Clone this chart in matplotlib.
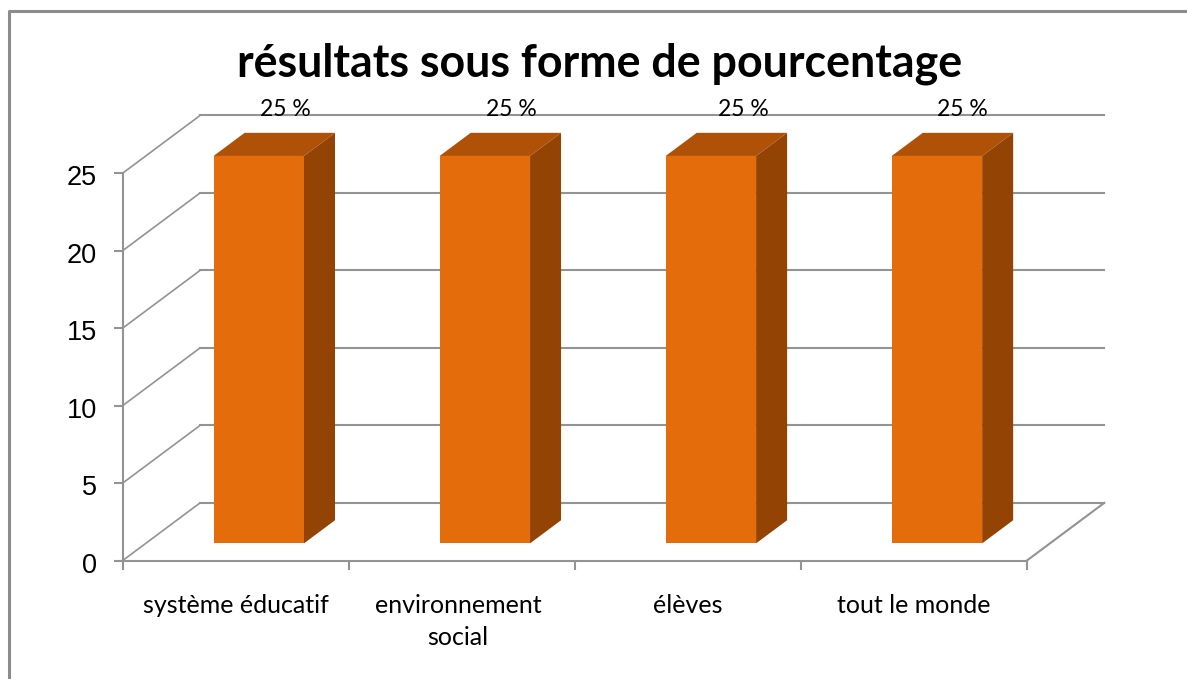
import matplotlib
matplotlib.use('Agg')
import matplotlib.pyplot as plt
from matplotlib.lines import Line2D
from matplotlib.patches import Polygon
from matplotlib.transforms import ScaledTranslation

categories = ['système éducatif', 'environnement\nsocial', 'élèves', 'tout le monde']
values = [25, 25, 25, 25]
point_labels = ['25 %', '25 %', '25 %', '25 %']
y_ticks = [0, 5, 10, 15, 20, 25]
title = 'résultats sous forme de pourcentage'

W, H = 1187, 679
GREY = '#939393'
FRONT = '#E46C0A'
TOP = '#AF5208'
SIDE = '#934404'

# size of the fake 3d depth, in data units
DX = 0.343
DY = 3.73
BAR_W = 0.40
D0, D1 = 0.30, 0.70
# data labels are not quite centred in the original
nudge = [50, 50, 56, 49]

fig = plt.figure(figsize=(W / 100, H / 100), dpi=100, facecolor='white')
ax = fig.add_axes([122.5 / W, (H - 560.7) / H, 904.2 / W, 387.4 / H])
ax.set_xlim(0, len(categories))
ax.set_ylim(0, 25)
ax.patch.set_visible(False)

for s in ['top', 'right']:
    ax.spines[s].set_visible(False)
for s in ['left', 'bottom']:
    ax.spines[s].set_color(GREY)
    ax.spines[s].set_linewidth(1.5)

ax.set_yticks(y_ticks)
ax.set_yticklabels([str(t) for t in y_ticks], fontsize=19.5, family='Liberation Sans')
ax.tick_params(axis='y', length=6.5, width=1.5, color=GREY, pad=12)
ax.set_xticks(range(len(categories) + 1))
ax.set_xticklabels([])
ax.tick_params(axis='x', length=6.5, width=1.5, color=GREY)
ax.set_xticks([i + 0.5 for i in range(len(categories))], minor=True)
ax.set_xticklabels(categories, minor=True, fontsize=18, family='Lato', linespacing=1.46)
ax.tick_params(axis='x', which='minor', length=0, pad=24)

# small pixel shifts of the tick labels
for lab in ax.get_yticklabels():
    lab.set_transform(lab.get_transform() + ScaledTranslation(0, -2 / 100, fig.dpi_scale_trans))
lab = ax.get_xticklabels(minor=True)[1]
lab.set_transform(lab.get_transform() + ScaledTranslation(-3.5 / 100, 0, fig.dpi_scale_trans))

# back wall grid and the diagonals on the left side wall
n = len(categories)
for t in y_ticks:
    ax.plot([DX, n + DX], [t + DY, t + DY], color=GREY, lw=1.5, clip_on=False, zorder=1)
    ax.plot([0, DX], [t, t + DY], color=GREY, lw=1.2, clip_on=False, zorder=1)
ax.plot([n, n + DX], [0, DY], color=GREY, lw=1.5, clip_on=False, zorder=1)

# bars: front with ax.bar, top and side as polygons
xs = [i + 0.5 + D0 * DX for i in range(n)]
ax.bar(xs, values, BAR_W, bottom=D0 * DY, color=FRONT, clip_on=False, zorder=3)
shift_x = (D1 - D0) * DX
shift_y = (D1 - D0) * DY
for x, v in zip(xs, values):
    l, r = x - BAR_W / 2, x + BAR_W / 2
    b, t = D0 * DY, D0 * DY + v
    ax.add_patch(Polygon([(l, t), (r, t), (r + shift_x, t + shift_y), (l + shift_x, t + shift_y)],
                         closed=True, fc=TOP, ec='none', clip_on=False, zorder=3))
    ax.add_patch(Polygon([(r, b), (r + shift_x, b + shift_y), (r + shift_x, t + shift_y), (r, t)],
                         closed=True, fc=SIDE, ec='none', clip_on=False, zorder=3))

for i, lab in enumerate(point_labels):
    ax.annotate(lab, (i + 0.5, values[i]), xytext=(nudge[i] * 0.72, 64 * 0.72),
                textcoords='offset points', ha='center', va='center',
                fontsize=16.5, family='Lato', zorder=5, annotation_clip=False)

fig.text(600 / W, 1 - 64 / H, title, ha='center', va='center', fontsize=32.2,
         fontweight='bold', family='Lato')

# outer frame, only left and top are in the crop
fig.add_artist(Line2D([9.5 / W, 9.5 / W, 1], [0, 1 - 11 / H, 1 - 11 / H], color='#8C8C8C', lw=2.2))

fig.savefig('out.png', dpi=100)
